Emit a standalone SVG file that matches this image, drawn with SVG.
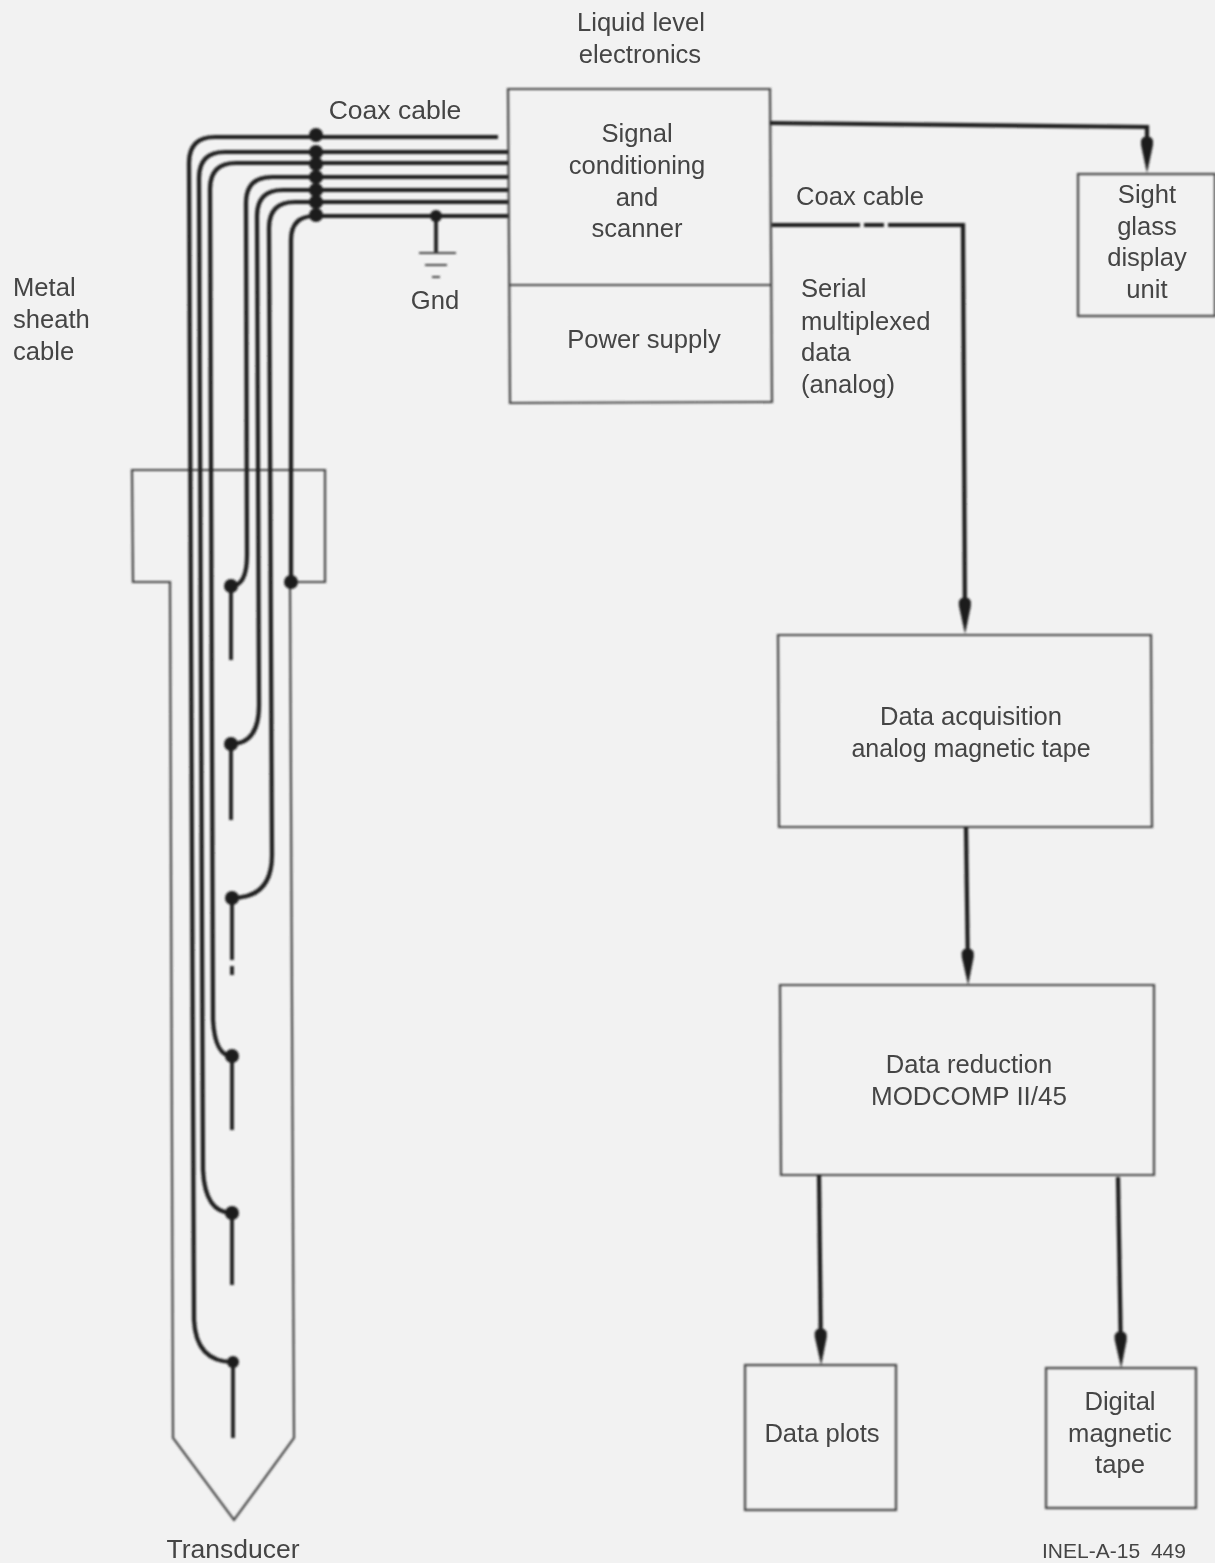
<svg xmlns="http://www.w3.org/2000/svg" width="1215" height="1563" viewBox="0 0 1215 1563">
<style>
.t{font-family:"Liberation Sans",Arial,sans-serif;font-size:25.6px;fill:#444;text-anchor:middle}
.l{text-anchor:start}
.b{fill:none;stroke:#444;stroke-width:2.2}
.w{fill:none;stroke:#1e1e1e;stroke-width:4.2}
.s{fill:none;stroke:#1e1e1e;stroke-width:3.8}
.d{fill:#1a1a1a}
</style>
<defs>
<marker id="a" markerUnits="userSpaceOnUse" markerWidth="36" markerHeight="14" refX="26" refY="7" orient="auto" viewBox="0 0 36 14"><path d="M0 3.500 L3 1 H8 L36 7 L8 13 H3 L0 10.500 Z" fill="#1e1e1e"/></marker>
<filter id="f" x="-5%" y="-5%" width="110%" height="110%"><feGaussianBlur stdDeviation="0.8"/></filter>
<filter id="g" x="-5%" y="-5%" width="110%" height="110%"><feGaussianBlur stdDeviation="0.5"/></filter>
</defs>
<rect width="1215" height="1563" fill="#f2f2f2"/>
<g filter="url(#f)">
<g id="probe"><path class="b" d="M132 470 H325 V582 H290 L294 1438 L234 1520 L173 1438 L170 582 H133 Z"/></g>
<g id="electronics"><path class="b" d="M508 89 L770 89 L772 402 L510 403 Z M509 285 H771"/></g>
<g id="sight-glass"><rect class="b" x="1078" y="174" width="137" height="142"/></g>
<g id="data-acquisition"><path class="b" d="M778 635 H1151 L1152 827 H779 Z"/></g>
<g id="data-reduction"><path class="b" d="M780 985 H1154 V1175 H781 Z"/></g>
<g id="data-plots"><rect class="b" x="745" y="1365" width="151" height="145"/></g>
<g id="digital-tape"><rect class="b" x="1046" y="1368" width="150" height="140"/></g>
<g id="connectors">
<path class="w" d="M498 137 H215 Q189 137 189 163 L194 1320 Q196 1362 233 1362"/>
<path class="w" d="M508 152 H225 Q199 152 199 178 L203 1170 Q205 1213 232 1213"/>
<path class="w" d="M508 163 H236 Q210 163 210 189 L213 1020 Q215 1056 232 1056"/>
<path class="w" d="M508 177 H272 Q246 177 246 203 L247 555 Q247 586 231 586"/>
<path class="w" d="M508 190 H283 Q257 190 257 216 L259 705 Q259 744 231 744"/>
<path class="w" d="M508 202 H295 Q269 202 269 228 L272 855 Q272 898 232 898"/>
<path class="w" d="M508 216 H315 Q291 216 291 240 V582"/>
<path class="s" d="M231 586 V660 M231 744 V820 M232 898 V960 M232 966 V975 M232 1056 V1130 M232 1213 V1285 M233 1362 V1438"/>
<path class="s" d="M436 216 V253"/>
<path class="b" d="M419 253 H456 M425 265 H447 M432 277 H440"/>
<g class="d"><circle cx="316" cy="135" r="7"/><circle cx="316" cy="152" r="7"/><circle cx="316" cy="164" r="7"/><circle cx="316" cy="177" r="7"/><circle cx="316" cy="190" r="7"/><circle cx="316" cy="202" r="7"/><circle cx="316" cy="215" r="7"/><circle cx="436" cy="216" r="6"/><circle cx="231" cy="586" r="7"/><circle cx="291" cy="582" r="7"/><circle cx="231" cy="744" r="7"/><circle cx="232" cy="898" r="7"/><circle cx="232" cy="1056" r="7"/><circle cx="232" cy="1213" r="7"/><circle cx="233" cy="1362" r="6"/></g>
<path class="w" marker-end="url(#a)" d="M770 123 L1147 127 V163"/>
<path class="w" marker-end="url(#a)" d="M772 225 H860 M864 225 H884 M888 225 H963 L965 624"/>
<path class="w" marker-end="url(#a)" d="M966 827 L968 975"/>
<path class="w" marker-end="url(#a)" d="M819 1175 L821 1355"/>
<path class="w" marker-end="url(#a)" d="M1118 1177 L1121 1358"/>
</g>
</g>
<g id="labels" filter="url(#g)" transform="translate(0 0.6)">
<text class="t" x="641" y="30">Liquid level</text><text class="t" x="640" y="62">electronics</text>
<text class="t" x="637" y="141">Signal</text><text class="t" x="637" y="173">conditioning</text><text class="t" x="637" y="205">and</text><text class="t" x="637" y="236">scanner</text>
<text class="t" x="644" y="347">Power supply</text>
<text class="t" x="1147" y="202">Sight</text><text class="t" x="1147" y="234">glass</text><text class="t" x="1147" y="265">display</text><text class="t" x="1147" y="297">unit</text>
<text class="t" x="971" y="724">Data acquisition</text><text class="t" x="971" y="756" style="font-size:25px">analog magnetic tape</text>
<text class="t" x="969" y="1072">Data reduction</text><text class="t" x="969" y="1104" style="font-size:26px">MODCOMP II/45</text>
<text class="t" x="822" y="1441">Data plots</text>
<text class="t" x="1120" y="1409">Digital</text><text class="t" x="1120" y="1441">magnetic</text><text class="t" x="1120" y="1472">tape</text>
<text class="t" x="395" y="118" style="font-size:26.5px">Coax cable</text>
<text class="t" x="435" y="308">Gnd</text>
<text class="t l" x="13" y="295">Metal</text><text class="t l" x="13" y="327">sheath</text><text class="t l" x="13" y="359">cable</text>
<text class="t" x="860" y="204">Coax cable</text>
<text class="t l" x="801" y="296">Serial</text><text class="t l" x="801" y="329">multiplexed</text><text class="t l" x="801" y="360">data</text><text class="t l" x="801" y="392">(analog)</text>
<text class="t" x="233" y="1557" style="font-size:26.5px">Transducer</text>
<text class="t" x="1114" y="1557" style="font-size:21px;word-spacing:5px">INEL-A-15 449</text>
</g>
</svg>
